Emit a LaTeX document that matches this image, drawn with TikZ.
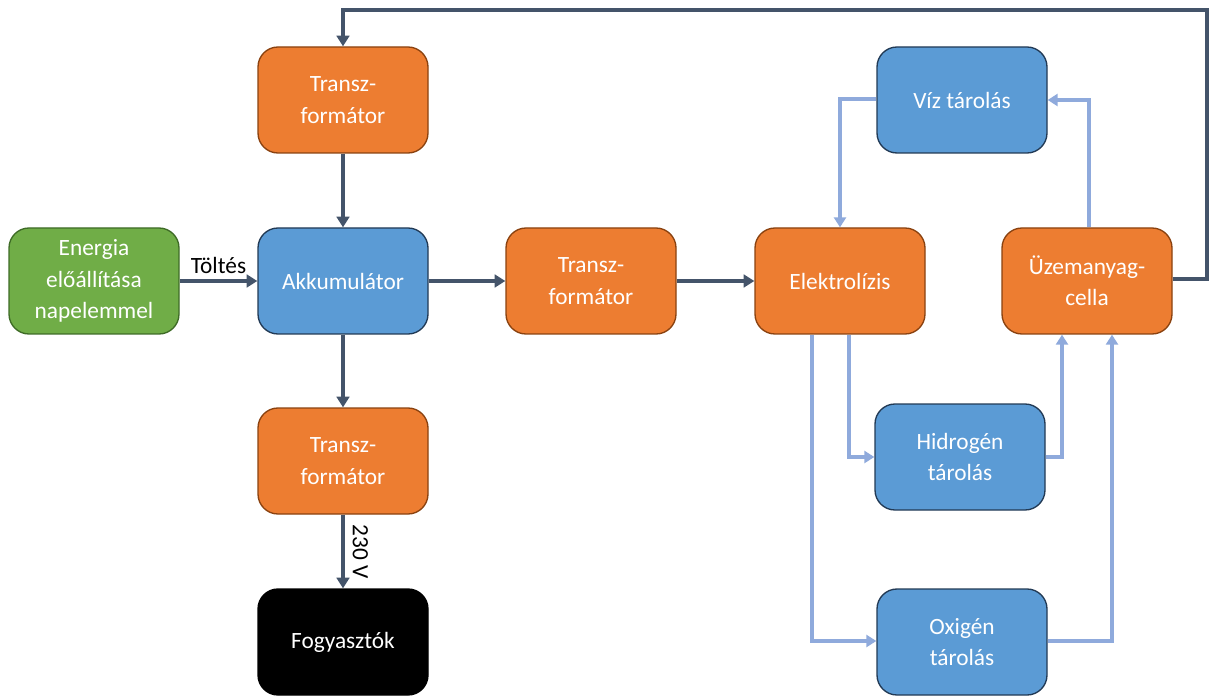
\documentclass[tikz,border=0pt]{standalone}
\usepackage{fontspec}
\setmainfont{Carlito}
\usetikzlibrary{arrows.meta}
\definecolor{orfill}{HTML}{ED7D31}
\definecolor{ordraw}{HTML}{8A4210}
\definecolor{blfill}{HTML}{5B9BD5}
\definecolor{bldraw}{HTML}{223A55}
\definecolor{grfill}{HTML}{70AD47}
\definecolor{grdraw}{HTML}{3E6B26}
\definecolor{darkarr}{HTML}{44546A}
\definecolor{lightarr}{HTML}{8FAADC}
\tikzset{
  box/.style={rounded corners=15pt, minimum width=127.5pt, minimum height=79.5pt,
    line width=1pt, text=white, align=center, inner sep=0pt,
    font=\fontsize{17.5}{23.5}\selectfont},
  obox/.style={box, fill=orfill, draw=ordraw},
  bbox/.style={box, fill=blfill, draw=bldraw},
  gbox/.style={box, fill=grfill, draw=grdraw},
  kbox/.style={box, fill=black, draw=black},
  darr/.style={draw=darkarr, line width=2.4pt, -{Triangle[width=9.5pt,length=8pt]}},
  larr/.style={draw=lightarr, line width=2.4pt, -{Triangle[width=9pt,length=7.5pt]}},
  lbl/.style={font=\fontsize{17.5}{21}\selectfont, text=black, inner sep=1pt}
}
\begin{document}
\begin{tikzpicture}[x=0.75pt,y=-0.75pt]
\useasboundingbox (0,0) rectangle (1209,698);
\node[obox] (t1) at (343,100) {Transz-\\formátor};
\node[gbox] (en) at (94,281) {Energia\\előállítása\\napelemmel};
\node[bbox] (ak) at (343,281) {Akkumulátor};
\node[obox] (t2) at (591,281) {Transz-\\formátor};
\node[obox] (el) at (840,281) {Elektrolízis};
\node[obox] (uz) at (1087,281) {Üzemanyag-\\cella};
\node[bbox] (vz) at (962,100) {Víz tárolás};
\node[bbox] (hd) at (960,457) {Hidrogén\\tárolás};
\node[obox] (t3) at (343,461) {Transz-\\formátor};
\node[kbox] (fg) at (343,642) {Fogyasztók};
\node[bbox] (ox) at (962,642) {Oxigén\\tárolás};

\coordinate (c1) at (1207,279);
\coordinate (c2) at (1207,10);
\coordinate (c3) at (343,10);

\draw[darr] (en) -- node[lbl, above, yshift=3pt] {Töltés} (ak);
\draw[darr] (t1) -- (ak);
\draw[darr] (ak) -- (t2);
\draw[darr] (t2) -- (el);
\draw[darr] (ak) -- (t3);
\draw[darr] (t3) -- node[lbl, rotate=-90, anchor=south, yshift=5pt] {230 V} (fg);
\draw[darr] (uz.east |- c1) -- (c1) -- (c2) -- (c3) -- (t1.north);

\draw[larr] (vz.west |- 0,99) -- (840,99) -- (el.north);
\draw[larr] (1089,0 |- uz.north) -- (1089,100) -- (vz.east |- 0,100);
\draw[larr] (849,0 |- el.south) -- (849,457) -- (hd.west);
\draw[larr] (812,0 |- el.south) -- (812,641) -- (ox.west |- 0,641);
\draw[larr] (hd.east) -- (1062,457) -- (1062,0 |- uz.south);
\draw[larr] (ox.east |- 0,641) -- (1112,641) -- (1112,0 |- uz.south);
\end{tikzpicture}
\end{document}
